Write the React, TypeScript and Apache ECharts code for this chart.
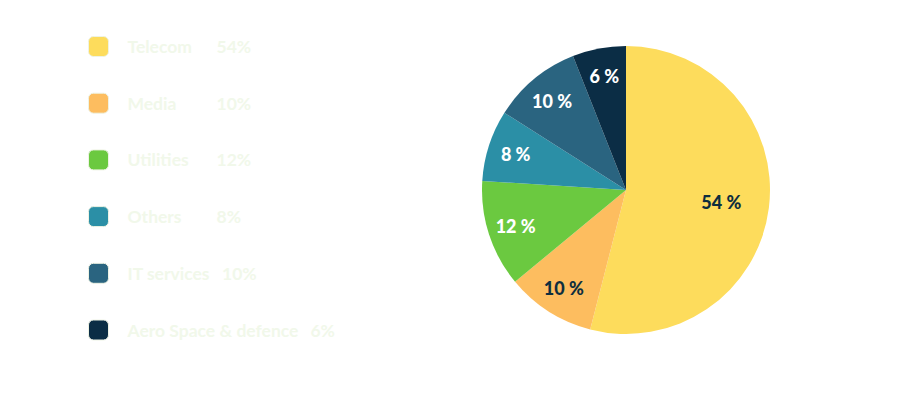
import { useEffect, useRef } from 'react';
import * as echarts from 'echarts';

const sectors = ['Telecom', 'Media', 'Utilities', 'Others', 'IT services', 'Aero Space & defence'];
const shares = [54, 10, 12, 8, 10, 6];
const colors = ['#FDDC5C', '#FDBD5F', '#6BC940', '#2B8FA6', '#2A6480', '#0B2D45'];
const labelColors = ['#0E2E3E', '#0E2E3E', '#ffffff', '#ffffff', '#ffffff', '#ffffff'];

const legendText = '#F1F8EA';

export default function App() {
  const chartRef = useRef<HTMLDivElement | null>(null);

  useEffect(() => {
    if (!chartRef.current) return undefined;
    const chart = echarts.init(chartRef.current, undefined, { renderer: 'svg' });

    const data = sectors.map((name, i) => ({
      name,
      value: shares[i],
      itemStyle: { color: colors[i] },
    }));

    // transparent copies of the pie, only used to place the labels further out
    const labelData = (show: (i: number) => boolean) =>
      sectors.map((name, i) => ({
        name,
        value: shares[i],
        label: { show: show(i), color: labelColors[i] },
      }));

    const labelSeries = (radius: number, show: (i: number) => boolean) => ({
      type: 'pie',
      center: [626, 190],
      radius: [0, radius],
      startAngle: 90,
      clockwise: true,
      silent: true,
      legendHoverLink: false,
      itemStyle: { color: 'rgba(0,0,0,0)' },
      label: {
        position: 'inside',
        formatter: '{c} %',
        fontFamily: 'Lato',
        fontWeight: 900,
        fontSize: 18,
      },
      labelLine: { show: false },
      data: labelData(show),
    });

    const richBase = { color: legendText, fontFamily: 'Lato', fontWeight: 'bold', fontSize: 17.5, lineHeight: 20 };

    chart.setOption({
      animation: false,
      legend: {
        orient: 'vertical',
        left: 88,
        top: 36,
        padding: 0,
        itemWidth: 20,
        itemHeight: 20,
        itemGap: 35.7,
        icon: 'roundRect',
        itemStyle: { borderColor: '#EEF3E4', borderWidth: 1 },
        textStyle: {
          ...richBase,
          padding: [0, 0, 0, 14],
          rich: {
            n: { ...richBase, width: 89 },
            w: { ...richBase, padding: [0, 12, 0, 0] },
            p: { ...richBase },
          },
        },
        formatter: (name: string) => {
          const i = sectors.indexOf(name);
          const style = name.length > 9 ? 'w' : 'n';
          return `{${style}|${name}}{p|${shares[i]}%}`;
        },
        data: sectors,
      },
      series: [
        {
          type: 'pie',
          center: [626, 190],
          radius: [0, 144],
          startAngle: 90,
          clockwise: true,
          label: { show: false },
          labelLine: { show: false },
          emphasis: { disabled: true },
          data,
        },
        labelSeries(226, (i) => i !== 0),
        labelSeries(186, (i) => i === 0),
      ],
    });

    return () => {
      chart.dispose();
    };
  }, []);

  return (
    <div
      ref={chartRef}
      style={{ position: 'fixed', left: 0, top: 0, width: 900, height: 400, background: '#ffffff' }}
    />
  );
}
